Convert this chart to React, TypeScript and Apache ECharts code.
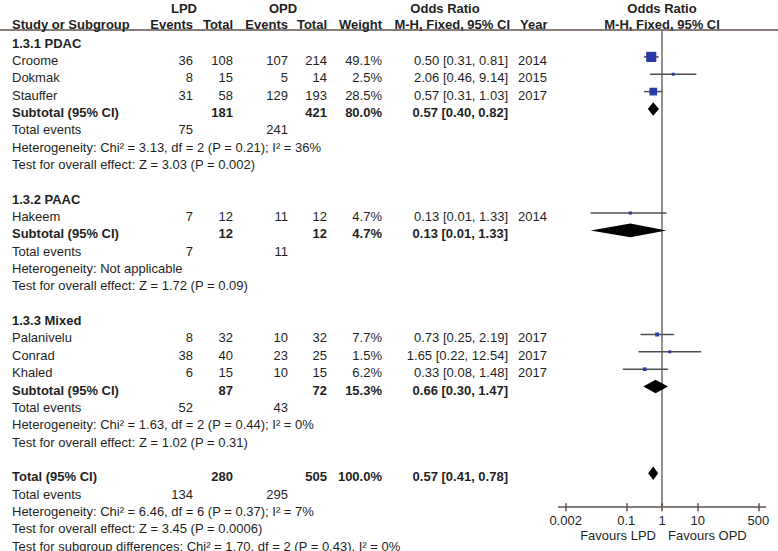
import React, { useEffect, useRef } from "react";
import * as echarts from "echarts";

// ---------------- data ----------------
const groupTitles = ["1.3.1 PDAC", "1.3.2 PAAC", "1.3.3 Mixed"];
const studyNames = ["Croome", "Dokmak", "Stauffer", "Hakeem", "Palanivelu", "Conrad", "Khaled"];
const studyGroup = [0, 0, 0, 1, 2, 2, 2];
const lpdEvents = [36, 8, 31, 7, 8, 38, 6];
const lpdTotal = [108, 15, 58, 12, 32, 40, 15];
const opdEvents = [107, 5, 129, 11, 10, 23, 10];
const opdTotal = [214, 14, 193, 12, 32, 25, 15];
const studyWeight = [49.1, 2.5, 28.5, 4.7, 7.7, 1.5, 6.2];
const studyOR = [0.5, 2.06, 0.57, 0.13, 0.73, 1.65, 0.33];
const studyLow = [0.31, 0.46, 0.31, 0.01, 0.25, 0.22, 0.08];
const studyHigh = [0.81, 9.14, 1.03, 1.33, 2.19, 12.54, 1.48];
const studyYear = [2014, 2015, 2017, 2014, 2017, 2017, 2017];

const groupLpdTotal = [181, 12, 87];
const groupOpdTotal = [421, 12, 72];
const groupLpdEvents = [75, 7, 52];
const groupOpdEvents = [241, 11, 43];
const groupWeight = [80.0, 4.7, 15.3];
const groupOR = [0.57, 0.13, 0.66];
const groupLow = [0.4, 0.01, 0.3];
const groupHigh = [0.82, 1.33, 1.47];
const groupHeterogeneity = [
  "Heterogeneity: Chi² = 3.13, df = 2 (P = 0.21); I² = 36%",
  "Heterogeneity: Not applicable",
  "Heterogeneity: Chi² = 1.63, df = 2 (P = 0.44); I² = 0%",
];
const groupEffect = [
  "Test for overall effect: Z = 3.03 (P = 0.002)",
  "Test for overall effect: Z = 1.72 (P = 0.09)",
  "Test for overall effect: Z = 1.02 (P = 0.31)",
];

const overallLpdTotal = 280;
const overallOpdTotal = 505;
const overallWeight = 100.0;
const overallOR = 0.57;
const overallLow = 0.41;
const overallHigh = 0.78;
const overallLpdEvents = 134;
const overallOpdEvents = 295;
const overallHeterogeneity = "Heterogeneity: Chi² = 6.46, df = 6 (P = 0.37); I² = 7%";
const overallEffect = "Test for overall effect: Z = 3.45 (P = 0.0006)";
const subgroupDifferences = "Test for subgroup differences: Chi² = 1.70, df = 2 (P = 0.43), I² = 0%";

const tickValues = [0.002, 0.1, 1, 10, 500];
const favoursLabels = ["Favours LPD", "Favours OPD"];

// ---------------- layout ----------------
const FONT = "'Liberation Sans', Arial, Helvetica, sans-serif";
const FS = 13;
const TEXT = "#1f1f1f";
const RULE = "#5e524d";
const X_MIN = -2.9;
const X_MAX = 2.9;
const Y_MIN = -0.55;
const Y_MAX = 26.95;
const ROW_PX = 17.35;
const GRID_TOP = 30;
const GRID_H = (Y_MAX - Y_MIN) * ROW_PX;
const PX_PER_DEC = 35.7;
const GRID_W = (X_MAX - X_MIN) * PX_PER_DEC;
const GRID_LEFT = 662 - (0 - X_MIN) * PX_PER_DEC;

const COL = { name: 12, lpdE: 193, lpdT: 233, opdE: 288, opdT: 327, weight: 382, or: 508, year: 518 };

type Cell = { text: string; x: number; align: "left" | "right" | "center"; bold?: boolean };
type Row = { row: number; cells: Cell[] };

const fmtCI = (o: number, l: number, h: number) => `${o.toFixed(2)} [${l.toFixed(2)}, ${h.toFixed(2)}]`;
const L = Math.log10;

const tableRows: Row[] = [];
const studyPoints: number[][] = [];
const diamondPoints: number[][] = [];

let base = 0;
groupTitles.forEach((title, g) => {
  tableRows.push({ row: base, cells: [{ text: title, x: COL.name, align: "left", bold: true }] });
  const idx = studyNames.map((_, i) => i).filter((i) => studyGroup[i] === g);
  idx.forEach((i, k) => {
    const r = base + 1 + k;
    tableRows.push({
      row: r,
      cells: [
        { text: studyNames[i], x: COL.name, align: "left" },
        { text: String(lpdEvents[i]), x: COL.lpdE, align: "right" },
        { text: String(lpdTotal[i]), x: COL.lpdT, align: "right" },
        { text: String(opdEvents[i]), x: COL.opdE, align: "right" },
        { text: String(opdTotal[i]), x: COL.opdT, align: "right" },
        { text: studyWeight[i].toFixed(1) + "%", x: COL.weight, align: "right" },
        { text: fmtCI(studyOR[i], studyLow[i], studyHigh[i]), x: COL.or, align: "right" },
        { text: String(studyYear[i]), x: COL.year, align: "left" },
      ],
    });
    studyPoints.push([L(studyOR[i]), r, L(studyLow[i]), L(studyHigh[i]), studyWeight[i]]);
  });
  const n = idx.length;
  const sr = base + n + 1;
  tableRows.push({
    row: sr,
    cells: [
      { text: "Subtotal (95% CI)", x: COL.name, align: "left", bold: true },
      { text: String(groupLpdTotal[g]), x: COL.lpdT, align: "right", bold: true },
      { text: String(groupOpdTotal[g]), x: COL.opdT, align: "right", bold: true },
      { text: groupWeight[g].toFixed(1) + "%", x: COL.weight, align: "right", bold: true },
      { text: fmtCI(groupOR[g], groupLow[g], groupHigh[g]), x: COL.or, align: "right", bold: true },
    ],
  });
  diamondPoints.push([L(groupOR[g]), sr, L(groupLow[g]), L(groupHigh[g])]);
  tableRows.push({
    row: sr + 1,
    cells: [
      { text: "Total events", x: COL.name, align: "left" },
      { text: String(groupLpdEvents[g]), x: COL.lpdE, align: "right" },
      { text: String(groupOpdEvents[g]), x: COL.opdE, align: "right" },
    ],
  });
  tableRows.push({ row: sr + 2, cells: [{ text: groupHeterogeneity[g], x: COL.name, align: "left" }] });
  tableRows.push({ row: sr + 3, cells: [{ text: groupEffect[g], x: COL.name, align: "left" }] });
  base = sr + 3 + 2;
});

tableRows.push({
  row: base,
  cells: [
    { text: "Total (95% CI)", x: COL.name, align: "left", bold: true },
    { text: String(overallLpdTotal), x: COL.lpdT, align: "right", bold: true },
    { text: String(overallOpdTotal), x: COL.opdT, align: "right", bold: true },
    { text: overallWeight.toFixed(1) + "%", x: COL.weight, align: "right", bold: true },
    { text: fmtCI(overallOR, overallLow, overallHigh), x: COL.or, align: "right", bold: true },
  ],
});
diamondPoints.push([L(overallOR), base, L(overallLow), L(overallHigh)]);
tableRows.push({
  row: base + 1,
  cells: [
    { text: "Total events", x: COL.name, align: "left" },
    { text: String(overallLpdEvents), x: COL.lpdE, align: "right" },
    { text: String(overallOpdEvents), x: COL.opdE, align: "right" },
  ],
});
tableRows.push({ row: base + 2, cells: [{ text: overallHeterogeneity, x: COL.name, align: "left" }] });
tableRows.push({ row: base + 3, cells: [{ text: overallEffect, x: COL.name, align: "left" }] });
tableRows.push({ row: base + 4, cells: [{ text: subgroupDifferences, x: COL.name, align: "left" }] });

const tickLogs = tickValues.map((v) => L(v));

function txt(text: string, x: number, y: number, align: string, bold = false) {
  return {
    type: "text",
    x,
    y,
    silent: true,
    style: {
      text,
      fill: TEXT,
      fontSize: FS,
      fontFamily: FONT,
      fontWeight: bold ? "bold" : "normal",
      align,
      textAlign: align,
      verticalAlign: "middle",
      textVerticalAlign: "middle",
    },
  };
}

export default function App() {
  const ref = useRef<HTMLDivElement>(null);
  useEffect(() => {
    if (!ref.current) return;
    const chart = echarts.init(ref.current, undefined, { renderer: "svg" });
    const oneX = GRID_LEFT + ((0 - X_MIN) / (X_MAX - X_MIN)) * GRID_W;
    const H1 = 8;
    const H2 = 24;
    const option: any = {
      animation: false,
      backgroundColor: "#ffffff",
      grid: { left: GRID_LEFT, top: GRID_TOP, width: GRID_W, height: GRID_H, outerBoundsMode: "none" },
      xAxis: [
        {
          type: "value",
          min: X_MIN,
          max: X_MAX,
          position: "bottom",
          axisLine: { show: true, onZero: false, lineStyle: { color: RULE, width: 1.5 } },
          axisTick: { show: true, inside: false, length: 4, customValues: tickLogs, lineStyle: { color: RULE, width: 1.5 } },
          axisLabel: {
            show: true,
            customValues: tickLogs,
            margin: 7,
            color: TEXT,
            fontSize: FS,
            fontFamily: FONT,
            formatter: (v: number) => {
              const i = tickLogs.findIndex((t) => Math.abs(t - v) < 1e-6);
              return i >= 0 ? String(tickValues[i]) : "";
            },
          },
          splitLine: { show: false },
        },
        {
          type: "value",
          min: X_MIN,
          max: X_MAX,
          position: "bottom",
          axisLine: { show: false, onZero: false },
          axisTick: { show: true, inside: true, length: 4, customValues: tickLogs, lineStyle: { color: RULE, width: 1.5 } },
          axisLabel: { show: false },
          splitLine: { show: false },
        },
      ],
      yAxis: { type: "value", inverse: true, min: Y_MIN, max: Y_MAX, show: false },
      series: [
        {
          type: "line",
          silent: true,
          data: [
            [0, Y_MIN],
            [0, Y_MAX],
          ],
          showSymbol: false,
          symbol: "none",
          lineStyle: { color: RULE, width: 1.3 },
          z: 1,
        },
        {
          type: "custom",
          silent: true,
          clip: false,
          data: tableRows.map((r, i) => [0, r.row, i]),
          renderItem: (params: any, api: any) => {
            const r = tableRows[params.dataIndex];
            const y = api.coord([0, r.row])[1] + 3.5;
            return {
              type: "group",
              children: r.cells.map((c) => txt(c.text, c.x, y, c.align, !!c.bold)),
            };
          },
        },
        {
          type: "custom",
          silent: true,
          clip: false,
          data: studyPoints,
          z: 3,
          renderItem: (params: any, api: any) => {
            const row = api.value(1);
            const c = api.coord([api.value(0), row]);
            const a = api.coord([api.value(2), row]);
            const b = api.coord([api.value(3), row]);
            const s = Math.max(3, 1.45 * Math.sqrt(api.value(4)));
            return {
              type: "group",
              children: [
                { type: "line", shape: { x1: a[0], y1: a[1], x2: b[0], y2: b[1] }, style: { stroke: "#505050", lineWidth: 1.5 } },
                { type: "rect", shape: { x: c[0] - s / 2, y: c[1] - s / 2, width: s, height: s }, style: { fill: "#2c3ca6" } },
              ],
            };
          },
        },
        {
          type: "custom",
          silent: true,
          clip: false,
          data: diamondPoints,
          z: 3,
          renderItem: (params: any, api: any) => {
            const row = api.value(1);
            const c = api.coord([api.value(0), row]);
            const a = api.coord([api.value(2), row]);
            const b = api.coord([api.value(3), row]);
            const h = 6.8;
            return {
              type: "polygon",
              shape: {
                points: [
                  [a[0], c[1]],
                  [c[0], c[1] - h],
                  [b[0], c[1]],
                  [c[0], c[1] + h],
                ],
              },
              style: { fill: "#000000" },
            };
          },
        },
      ],
      graphic: [
        { type: "line", silent: true, shape: { x1: 0, y1: 30, x2: 778, y2: 30 }, style: { stroke: RULE, lineWidth: 1.5 } },
        txt("LPD", 184, H1, "center", true),
        txt("OPD", 283, H1, "center", true),
        txt("Odds Ratio", 445, H1, "center", true),
        txt("Odds Ratio", oneX, H1, "center", true),
        txt("Study or Subgroup", COL.name, H2, "left", true),
        txt("Events", COL.lpdE, H2, "right", true),
        txt("Total", COL.lpdT, H2, "right", true),
        txt("Events", COL.opdE, H2, "right", true),
        txt("Total", COL.opdT, H2, "right", true),
        txt("Weight", COL.weight, H2, "right", true),
        txt("M-H, Fixed, 95% CI", 510, H2, "right", true),
        txt("Year", 520, H2, "left", true),
        txt("M-H, Fixed, 95% CI", oneX, H2, "center", true),
        txt(favoursLabels[0], oneX - 6, 535, "right"),
        txt(favoursLabels[1], oneX + 6, 535, "left"),
      ],
    };
    chart.setOption(option);
    return () => chart.dispose();
  }, []);
  return (
    <div
      ref={ref}
      style={{ position: "fixed", left: 0, top: 0, width: 778, height: 551, background: "#fff" }}
    />
  );
}
